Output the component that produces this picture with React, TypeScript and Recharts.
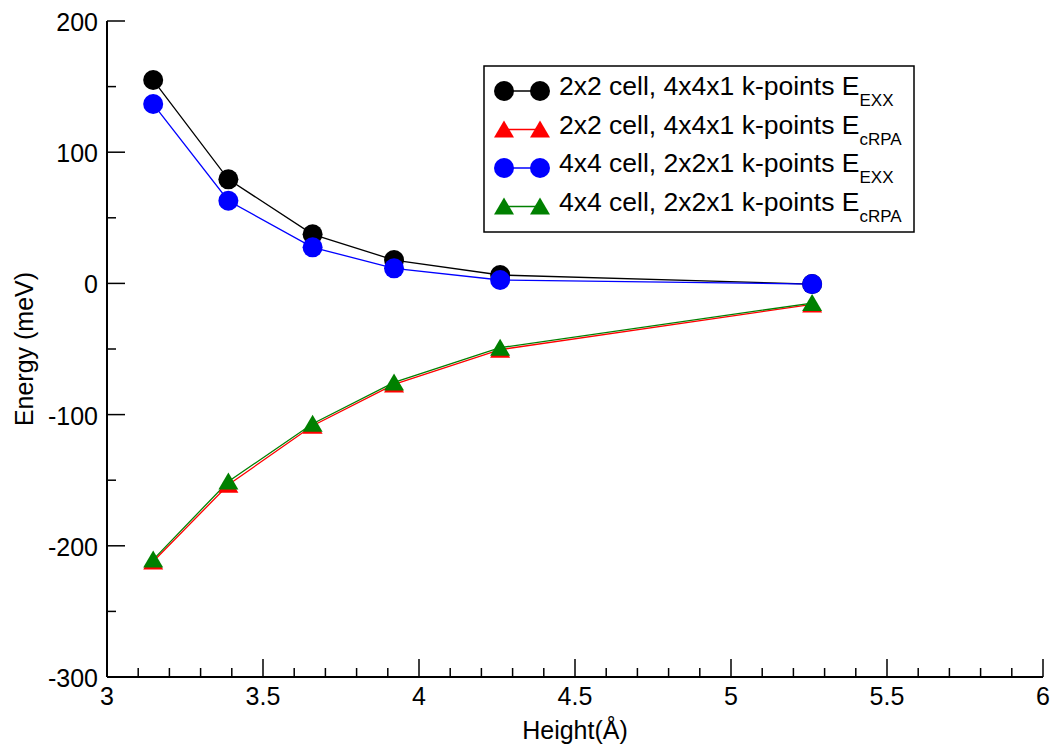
import { Legend, Line, LineChart, XAxis, YAxis } from 'recharts'

const heights = [3.148, 3.389, 3.659, 3.92, 4.26, 5.26]
const exx2x2 = [155, 79.3, 37.4, 17.8, 6.4, -0.5]
const crpa2x2 = [-212, -153.5, -108.5, -77, -50.5, -16]
const exx4x4 = [136.7, 63, 27.5, 11.5, 2.6, -0.5]
const crpa4x4 = [-210.5, -151, -107, -75.5, -49, -15]

const xTicks = [3, 3.1, 3.2, 3.3, 3.4, 3.5, 3.6, 3.7, 3.8, 3.9, 4, 4.1, 4.2, 4.3, 4.4, 4.5, 4.6, 4.7, 4.8, 4.9, 5, 5.1, 5.2, 5.3, 5.4, 5.5, 5.6, 5.7, 5.8, 5.9, 6]
const yTicks = [-300, -250, -200, -150, -100, -50, 0, 50, 100, 150, 200]

const legendItems = [
  { label: '2x2 cell, 4x4x1 k-points E', sub: 'EXX', color: '#000000', shape: 'circle' },
  { label: '2x2 cell, 4x4x1 k-points E', sub: 'cRPA', color: '#ff0000', shape: 'triangle' },
  { label: '4x4 cell, 2x2x1 k-points E', sub: 'EXX', color: '#0000ff', shape: 'circle' },
  { label: '4x4 cell, 2x2x1 k-points E', sub: 'cRPA', color: '#008000', shape: 'triangle' },
]

const data = heights.map((h, i) => ({
  height: h,
  exx2: exx2x2[i],
  crpa2: crpa2x2[i],
  exx4: exx4x4[i],
  crpa4: crpa4x4[i],
}))

const FONT = '"Liberation Sans", Arial, sans-serif'
const isMajor = (v: number, step: number) => Math.abs(v / step - Math.round(v / step)) < 1e-6

function BottomTick({ x, y, payload }: any) {
  const major = isMajor(payload.value, 0.5)
  return (
    <g>
      <line x1={x} x2={x} y1={y} y2={y - (major ? 18 : 9)} stroke="#000" strokeWidth={1.5} />
      {major && (
        <text x={x} y={y + 28} textAnchor="middle" fontSize={25} fontFamily={FONT} fill="#000">
          {payload.value}
        </text>
      )}
    </g>
  )
}

function TopTick({ x, y, payload }: any) {
  const major = isMajor(payload.value, 0.5)
  return <line x1={x} x2={x} y1={y} y2={y + (major ? 18 : 9)} stroke="#000" strokeWidth={1.5} />
}

function LeftTick({ x, y, payload }: any) {
  const major = isMajor(payload.value, 100)
  return (
    <g>
      <line x1={x} x2={x + (major ? 18 : 9)} y1={y} y2={y} stroke="#000" strokeWidth={1.5} />
      {major && (
        <text x={x - 9} y={y + 10} textAnchor="end" fontSize={25} fontFamily={FONT} fill="#000">
          {payload.value}
        </text>
      )}
    </g>
  )
}

function RightTick({ x, y, payload }: any) {
  const major = isMajor(payload.value, 100)
  return <line x1={x} x2={x - (major ? 18 : 9)} y1={y} y2={y} stroke="#000" strokeWidth={1.5} />
}

function triangleDot(color: string) {
  return (props: any) => {
    const { cx, cy, index } = props
    if (cx == null || cy == null) return <g key={index} />
    return <polygon key={index} points={`${cx},${cy - 9} ${cx + 10},${cy + 8} ${cx - 10},${cy + 8}`} fill={color} />
  }
}

function Marker({ x, y, shape, color }: { x: number; y: number; shape: string; color: string }) {
  if (shape === 'circle') return <circle cx={x} cy={y} r={10} fill={color} />
  return <polygon points={`${x},${y - 9} ${x + 10},${y + 8} ${x - 10},${y + 8}`} fill={color} />
}

function LegendBox() {
  return (
    <svg width={432} height={168} style={{ display: 'block' }}>
      <rect x={1} y={1} width={430} height={166} fill="#fff" stroke="#000" strokeWidth={1.5} />
      {legendItems.map((item, i) => {
        const cy = 26 + i * 38.5
        return (
          <g key={i}>
            <line x1={21} x2={57} y1={cy} y2={cy} stroke={item.color} strokeWidth={1.3} />
            <Marker x={21} y={cy} shape={item.shape} color={item.color} />
            <Marker x={57} y={cy} shape={item.shape} color={item.color} />
            <text x={76} y={cy + 4} fontSize={26.5} fontFamily={FONT} fill="#000">
              {item.label}
              <tspan fontSize={17} dy={11}>{item.sub}</tspan>
            </text>
          </g>
        )
      })}
    </svg>
  )
}

export default function App() {
  return (
    <div style={{ position: 'absolute', left: 0, top: 0, background: '#fff' }}>
      <LineChart width={1051} height={744} data={data} margin={{ top: 21, right: 8, bottom: 0, left: 0 }}>
        <XAxis
          xAxisId={0}
          dataKey="height"
          type="number"
          domain={[3, 6]}
          ticks={xTicks}
          interval={0}
          height={67}
          tickSize={0}
          tickMargin={0}
          tickLine={false}
          tick={<BottomTick />}
          axisLine={{ stroke: '#000', strokeWidth: 2 }}
          label={({ viewBox }: any) => (
            <text x={viewBox.x + viewBox.width / 2} y={viewBox.y + 62} textAnchor="middle" fontSize={25} fontFamily={FONT} fill="#000">
              Height(Å)
            </text>
          )}
        />
        <XAxis
          xAxisId="top"
          orientation="top"
          dataKey="height"
          type="number"
          domain={[3, 6]}
          ticks={xTicks}
          interval={0}
          height={0}
          tickSize={0}
          tickMargin={0}
          tickLine={false}
          tick={<TopTick />}
          axisLine={{ stroke: '#000', strokeWidth: 2 }}
        />
        <YAxis
          yAxisId={0}
          type="number"
          domain={[-300, 200]}
          ticks={yTicks}
          interval={0}
          width={107}
          tickSize={0}
          tickMargin={0}
          tickLine={false}
          tick={<LeftTick />}
          axisLine={{ stroke: '#000', strokeWidth: 2 }}
          label={({ viewBox }: any) => {
            const cx = 33
            const cy = viewBox.y + viewBox.height / 2
            return (
              <text x={cx} y={cy} transform={`rotate(-90 ${cx} ${cy})`} textAnchor="middle" fontSize={25} fontFamily={FONT} fill="#000">
                Energy (meV)
              </text>
            )
          }}
        />
        <YAxis
          yAxisId="right"
          orientation="right"
          type="number"
          domain={[-300, 200]}
          ticks={yTicks}
          interval={0}
          width={0}
          tickSize={0}
          tickMargin={0}
          tickLine={false}
          tick={<RightTick />}
          axisLine={{ stroke: '#000', strokeWidth: 2 }}
        />
        <Legend
          layout="vertical"
          align="center"
          verticalAlign="middle"
          wrapperStyle={{ left: 483, top: 65 }}
          content={() => <LegendBox />}
        />
        <Line dataKey="exx2" stroke="#000000" strokeWidth={1.3} dot={{ r: 10, fill: '#000000', stroke: 'none' }} isAnimationActive={false} />
        <Line dataKey="crpa2" stroke="#ff0000" strokeWidth={1.3} dot={triangleDot('#ff0000')} isAnimationActive={false} />
        <Line dataKey="exx4" stroke="#0000ff" strokeWidth={1.3} dot={{ r: 10, fill: '#0000ff', stroke: 'none' }} isAnimationActive={false} />
        <Line dataKey="crpa4" stroke="#008000" strokeWidth={1.3} dot={triangleDot('#008000')} isAnimationActive={false} />
      </LineChart>
    </div>
  )
}
